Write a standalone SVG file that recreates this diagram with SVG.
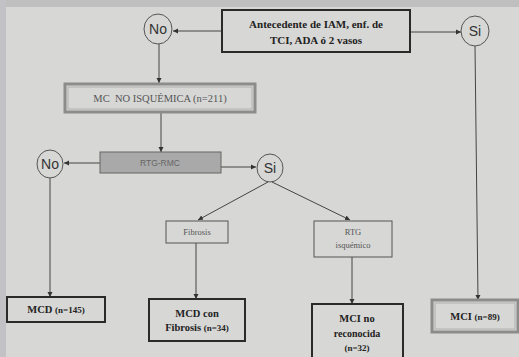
<svg xmlns="http://www.w3.org/2000/svg" width="519" height="357" viewBox="0 0 519 357">
<style>
.bg{fill:#d7d7d5}
.box{fill:none;stroke:#2a2a2a;stroke-width:2}
.gbox{fill:none;stroke:#8c8c8c;stroke-width:3}
.gin{fill:none;stroke:#b0b0b0;stroke-width:1}
.tbox{fill:none;stroke:#555;stroke-width:1}
.circ{fill:none;stroke:#555;stroke-width:1}
.ln{stroke:#444;stroke-width:1;fill:none}
.ct{font-family:"Liberation Sans",Arial,sans-serif;font-size:14px;fill:#333;text-anchor:middle}
.bt{font-family:"Liberation Serif","Times New Roman",serif;font-weight:bold;fill:#222;text-anchor:middle}
.st{font-family:"Liberation Serif","Times New Roman",serif;fill:#555;text-anchor:middle}
</style>
<defs>
<marker id="ah" markerWidth="6" markerHeight="6" refX="5" refY="3" orient="auto" markerUnits="userSpaceOnUse">
<path d="M0,0.5 L5,3 L0,5.5 Z" fill="#333"/>
</marker>
</defs>
<rect class="bg" x="0" y="0" width="519" height="357"/>
<rect x="0" y="0" width="519" height="7" fill="#bfbfbf"/>
<rect x="0" y="0" width="6" height="357" fill="#c2c2c6"/>

<g id="connectors">
<line class="ln" x1="222" y1="31" x2="173" y2="31" marker-end="url(#ah)"/>
<line class="ln" x1="410" y1="32" x2="461" y2="32" marker-end="url(#ah)"/>
<line class="ln" x1="159" y1="44" x2="159" y2="83" marker-end="url(#ah)"/>
<line class="ln" x1="161" y1="113" x2="161" y2="152" marker-end="url(#ah)"/>
<line class="ln" x1="100" y1="163" x2="64" y2="163" marker-end="url(#ah)"/>
<line class="ln" x1="221" y1="167" x2="256" y2="167" marker-end="url(#ah)"/>
<line class="ln" x1="50" y1="178" x2="50" y2="297" marker-end="url(#ah)"/>
<line class="ln" x1="268" y1="182" x2="198" y2="220" marker-end="url(#ah)"/>
<line class="ln" x1="272" y1="182" x2="350" y2="220" marker-end="url(#ah)"/>
<line class="ln" x1="196" y1="243" x2="196" y2="299" marker-end="url(#ah)"/>
<line class="ln" x1="352" y1="257" x2="352" y2="304" marker-end="url(#ah)"/>
<line class="ln" x1="475" y1="46" x2="478" y2="300" marker-end="url(#ah)"/>
</g>

<g id="top">
<rect class="box" x="222" y="10" width="188" height="42"/>
<text class="bt" x="316" y="28" font-size="11">Antecedente de IAM, enf. de</text>
<text class="bt" x="316" y="44" font-size="11">TCI, ADA ó 2 vasos</text>
</g>
<g id="no1">
<ellipse class="circ" cx="158" cy="29" rx="14" ry="15"/>
<text class="ct" x="158" y="34">No</text>
</g>
<g id="si1">
<ellipse class="circ" cx="475" cy="31" rx="14" ry="15"/>
<text class="ct" x="475" y="36">Si</text>
</g>
<g id="mcnoisq">
<rect class="gbox" x="65" y="84" width="190" height="28"/>
<rect class="gin" x="68" y="87" width="184" height="22"/>
<text class="st" x="160" y="102" font-size="10.5">MC&#160; NO ISQUÉMICA (n=211)</text>
</g>
<g id="rtgrmc">
<rect x="100" y="152" width="121" height="21" fill="#a9a9a9" stroke="#666" stroke-width="1"/>
<text x="160" y="166" font-family="Liberation Sans,Arial,sans-serif" font-size="8.5" fill="#666" text-anchor="middle">RTG-RMC</text>
</g>
<g id="no2">
<ellipse class="circ" cx="50" cy="164" rx="13" ry="14"/>
<text class="ct" x="50" y="169">No</text>
</g>
<g id="si2">
<ellipse class="circ" cx="270" cy="168" rx="13" ry="14"/>
<text class="ct" x="270" y="173">Si</text>
</g>
<g id="fibrosis">
<rect class="tbox" x="166" y="221" width="62" height="22"/>
<text class="st" x="197" y="235" font-size="8.5">Fibrosis</text>
</g>
<g id="rtgisq">
<rect class="tbox" x="314" y="221" width="78" height="36"/>
<text class="st" x="353" y="235" font-size="8.5">RTG</text>
<text class="st" x="353" y="248" font-size="8.5">isquémico</text>
</g>
<g id="mcd">
<rect class="box" x="7" y="297" width="98" height="25"/>
<text class="bt" x="56" y="313" font-size="10.5">MCD <tspan font-size="9">(n=145)</tspan></text>
</g>
<g id="mcdfib">
<rect class="box" x="149" y="299" width="96" height="42"/>
<text class="bt" x="197" y="317" font-size="10.5">MCD con</text>
<text class="bt" x="197" y="331" font-size="10.5">Fibrosis <tspan font-size="9">(n=34)</tspan></text>
</g>
<g id="mcinorec">
<rect class="box" x="312" y="304" width="91" height="56"/>
<text class="bt" x="357" y="322" font-size="10.5">MCI no</text>
<text class="bt" x="357" y="337" font-size="10">reconocida</text>
<text class="bt" x="357" y="351" font-size="9">(n=32)</text>
</g>
<g id="mci">
<rect class="gbox" x="432" y="300" width="86" height="32"/>
<rect class="gin" x="435" y="303" width="80" height="26"/>
<text class="bt" x="475" y="320" font-size="10.5">MCI <tspan font-size="9">(n=89)</tspan></text>
</g>
</svg>
